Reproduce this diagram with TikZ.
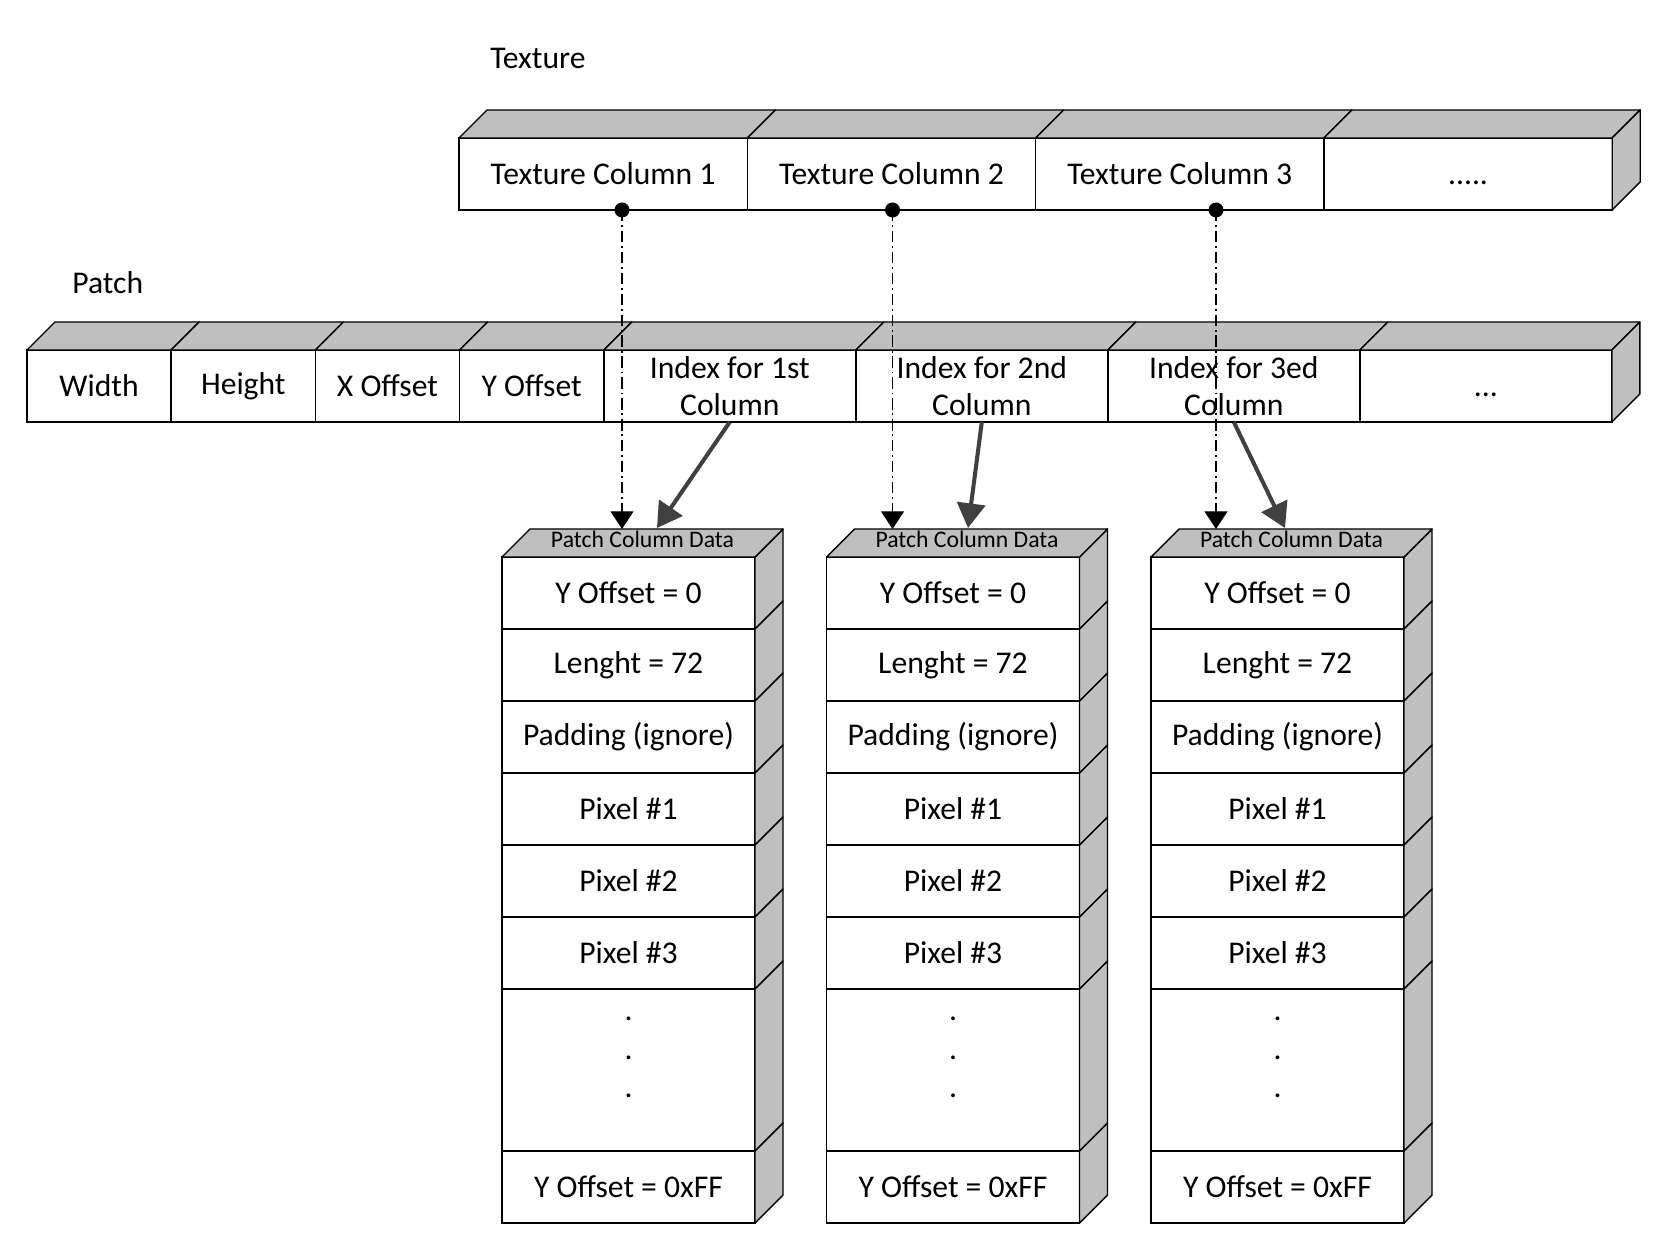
\documentclass[tikz,border=0pt]{standalone}
\usepackage{fontspec}
\setmainfont{Carlito}
\usepackage{xcolor}
\usepackage{tikz}
\usetikzlibrary{arrows.meta, positioning}

\definecolor{facegray}{RGB}{191,191,191}
\definecolor{arrowgray}{RGB}{64,64,64}
\newcommand{\facedepth}{0.56}

\tikzset{
  cell/.style={draw, fill=white, line width=0.8pt, inner sep=0pt, outer sep=0pt, minimum height=1.44cm, align=center, font=\fontsize{18}{21}\selectfont},
  face/.style={draw, fill=facegray, line width=0.8pt, line join=round},
  title/.style={font=\fontsize{18}{21}\selectfont, anchor=west, inner sep=0pt},
  pin/.style={circle, fill=black, inner sep=0pt, minimum size=0.3cm},
  pointer/.style={line width=0.6pt, dash pattern=on 6.5pt off 2.2pt on 1pt off 2.2pt, -{Triangle[width=13pt,length=10pt]}},
  index/.style={arrowgray, line width=2.3pt, -{Triangle[width=16pt,length=14pt]}},
}

\begin{document}
\begin{tikzpicture}
\useasboundingbox (0,0) rectangle (33.22,-24.98);

% texture
\node[title] (textureLabel) at (9.8,-1.16) {Texture};
\node[cell, minimum width=5.766cm] (texCol1) at (12.063,-3.48) {Texture Column 1};
\node[cell, minimum width=5.766cm] (texCol2) at (17.829,-3.48) {Texture Column 2};
\node[cell, minimum width=5.766cm] (texCol3) at (23.595,-3.48) {Texture Column 3};
\node[cell, minimum width=5.766cm] (texMore) at (29.361,-3.48) {\vphantom{T}.....};
\foreach \c in {texCol1,texCol2,texCol3,texMore}
  \draw[face] (\c.north west) -- ++(\facedepth,\facedepth) -- ([shift={(\facedepth,\facedepth)}]\c.north east) -- (\c.north east) -- cycle;
\draw[face] (texMore.north east) -- ++(\facedepth,\facedepth) -- ([shift={(\facedepth,\facedepth)}]texMore.south east) -- (texMore.south east) -- cycle;

% patch
\node[title] (patchLabel) at (1.44,-5.66) {Patch};
\node[cell, minimum width=2.884cm] (pWidth) at (1.982,-7.72) {Width};
\node[cell, minimum width=2.884cm] (pHeight) at (4.866,-7.72) {Height};
\node[cell, minimum width=2.884cm] (pXOffset) at (7.750,-7.72) {X Offset};
\node[cell, minimum width=2.884cm] (pYOffset) at (10.634,-7.72) {Y Offset};
\node[cell, minimum width=5.04cm] (pIndex1) at (14.596,-7.72) {Index for 1st\\Column};
\node[cell, minimum width=5.04cm] (pIndex2) at (19.636,-7.72) {Index for 2nd\\Column};
\node[cell, minimum width=5.04cm] (pIndex3) at (24.676,-7.72) {Index for 3ed\\Column};
\node[cell, minimum width=5.04cm] (pMore) at (29.716,-7.72) {\vphantom{W}...};
\foreach \c in {pWidth,pHeight,pXOffset,pYOffset,pIndex1,pIndex2,pIndex3,pMore}
  \draw[face] (\c.north west) -- ++(\facedepth,\facedepth) -- ([shift={(\facedepth,\facedepth)}]\c.north east) -- (\c.north east) -- cycle;
\draw[face] (pMore.north east) -- ++(\facedepth,\facedepth) -- ([shift={(\facedepth,\facedepth)}]pMore.south east) -- (pMore.south east) -- cycle;

% patch column data
\foreach \i/\x in {1/10.04, 2/16.53, 3/23.02} {
  \begin{scope}[every node/.append style={minimum width=5.06cm}]
  \node[cell] (yoff\i) at (\x+2.53,-11.86) {Y Offset = 0};
  \node[cell, below=0pt of yoff\i] (len\i) {Lenght = 72};
  \node[cell, below=0pt of len\i] (pad\i) {Padding (ignore)};
  \node[cell, below=0pt of pad\i] (pxa\i) {Pixel \#1};
  \node[cell, below=0pt of pxa\i] (pxb\i) {Pixel \#2};
  \node[cell, below=0pt of pxb\i] (pxc\i) {Pixel \#3};
  \node[cell, below=0pt of pxc\i, minimum height=3.24cm, text depth=0.5cm, font=\fontsize{18}{22}\selectfont] (dots\i) {.\\.\\.};
  \node[cell, below=0pt of dots\i] (end\i) {Y Offset = 0xFF};
  \end{scope}
  \foreach \r in {yoff,len,pad,pxa,pxb,pxc,dots,end}
    \draw[face] (\r\i.north east) -- ++(\facedepth,\facedepth) -- ([shift={(\facedepth,\facedepth)}]\r\i.south east) -- (\r\i.south east) -- cycle;
  \draw[face] (yoff\i.north west) -- ++(\facedepth,\facedepth) -- ([shift={(\facedepth,\facedepth)}]yoff\i.north east) -- (yoff\i.north east) -- cycle;
  \node[font=\fontsize{13.5}{16}\selectfont, inner sep=0pt] (head\i) at ([shift={(0.28,0.345)}]yoff\i.north) {Patch Column Data};
  \coordinate (top\i) at ([shift={(\facedepth,\facedepth)}]yoff\i.north west);
}

% links
\node[pin] (dot1) at (12.44,-4.2) {};
\node[pin] (dot2) at (17.85,-4.2) {};
\node[pin] (dot3) at (24.32,-4.2) {};
\draw[pointer] (dot1.center) -- (dot1 |- top1);
\draw[pointer] (dot2.center) -- (dot2 |- top2);
\draw[pointer] (dot3.center) -- (dot3 |- top3);

\coordinate (in1) at (13.14,-10.56);
\coordinate (in2) at (19.36,-10.56);
\coordinate (in3) at (25.70,-10.56);
\draw[index] (pIndex1.south) -- (in1);
\draw[index] (pIndex2.south) -- (in2);
\draw[index] (pIndex3.south) -- (in3);
\end{tikzpicture}
\end{document}
